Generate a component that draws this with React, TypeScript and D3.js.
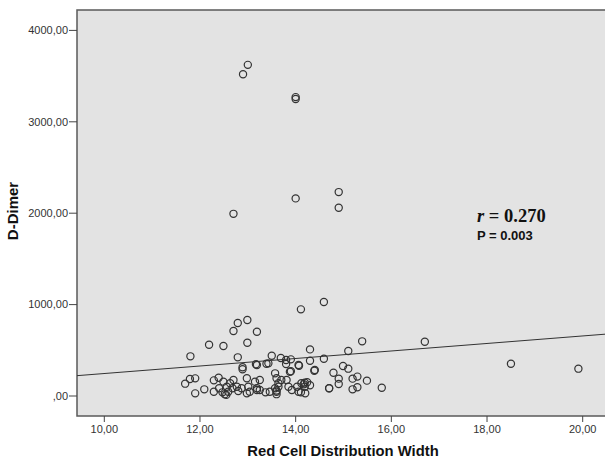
import React from 'react'
import * as d3 from 'd3'

// Red Cell Distribution Width (x) vs D-Dimer (y)
const rdw = [
  13.0, 12.9, 14.0, 14.0, 14.0, 12.7, 14.9, 14.9, 14.59, 14.11,
  15.39, 16.7, 18.5, 19.91, 15.1, 14.3, 14.59, 14.3, 14.99, 15.1,
  14.39, 14.4, 14.79, 14.9, 14.9, 15.19, 15.29, 15.49, 15.29, 15.19,
  14.7, 15.8, 14.19, 14.3, 14.11, 11.8, 12.19, 12.49, 12.7, 12.79,
  12.99, 13.19, 12.99, 12.79, 12.89, 12.89, 13.19, 13.39, 13.5, 13.69,
  13.8, 13.8, 13.9, 13.9, 14.06, 11.69, 11.79, 11.9, 11.9, 12.09,
  12.29, 12.39, 12.29, 12.49, 12.4, 12.47, 12.56, 12.59, 12.63, 12.7,
  12.68, 12.77, 12.8, 12.87, 12.98, 13.01, 13.04, 13.15, 13.19, 12.98,
  13.43, 13.88, 14.07, 13.25, 13.57, 13.6, 13.64, 13.7, 13.81, 13.19,
  13.25, 13.46, 13.57, 13.6, 13.64, 13.85, 13.92, 14.03, 14.06, 14.12,
  14.17, 14.24, 14.19, 14.7, 13.6, 13.6, 12.52, 12.55, 13.37, 14.2,
  13.17
]
const dDimer = [
  3623, 3521, 3270, 3250, 2162, 1993, 2231, 2059, 1028, 948,
  598, 594, 353, 299, 492, 510, 408, 386, 328, 299,
  277, 284, 255, 190, 131, 190, 212, 168, 95, 73,
  84, 91, 146, 117, 40, 434, 561, 547, 711, 798,
  831, 703, 583, 423, 314, 292, 339, 353, 441, 415,
  350, 394, 401, 270, 339, 135, 186, 193, 29, 73,
  171, 200, 47, 157, 84, 40, 102, 47, 139, 175,
  84, 102, 55, 84, 194, 102, 47, 157, 66, 29,
  357, 266, 331, 175, 248, 194, 139, 175, 175, 84,
  66, 47, 84, 47, 102, 102, 66, 102, 47, 139,
  128, 150, 102, 84, 20, 60, 20, 12, 40, 30,
  347
]

const xTicks = [10, 12, 14, 16, 18, 20]
const yTicks = [0, 1000, 2000, 3000, 4000]

// fitted line
const fitIntercept = -165
const fitSlope = 41.1
const rText = '0.270'
const pText = '0.003'

export default function App() {
  const W = 605
  const H = 461
  const plot = { left: 77, top: 10, right: 606, bottom: 416 }

  const x = d3.scaleLinear().domain([10, 20]).range([104.3, 582.7])
  const y = d3.scaleLinear().domain([0, 4000]).range([396, 30.4])

  const fmt = (v: number) => v.toFixed(2).replace('.', ',')
  const xMin = x.invert(plot.left)
  const xMax = x.invert(plot.right)

  const line = d3.line<number>()
    .x(d => x(d))
    .y(d => y(fitIntercept + fitSlope * d))

  const tickColor = '#444'

  return (
    <svg width={W} height={H} style={{ position: 'absolute', left: 0, top: 0 }}
      fontFamily="'Liberation Sans', Arial, sans-serif">
      <rect x={plot.left} y={plot.top} width={plot.right - plot.left}
        height={plot.bottom - plot.top} fill="#e3e3e3" stroke="#5a5a5a" strokeWidth={1.5} />

      {/* points */}
      {rdw.map((r, i) => (
        <circle key={i} cx={x(r)} cy={y(dDimer[i])} r={3.6}
          fill="none" stroke="#333" strokeWidth={1.2} />
      ))}

      {/* fit line */}
      <path d={line([xMin, xMax]) || ''} fill="none" stroke="#333" strokeWidth={1} />

      {/* y axis */}
      {yTicks.map(t => (
        <g key={t}>
          <line x1={plot.left - 8} x2={plot.left} y1={y(t)} y2={y(t)} stroke={tickColor} strokeWidth={1} />
          <text x={plot.left - 9} y={y(t)} dy="0.35em" textAnchor="end" fontSize={11} fill="#333">
            {t === 0 ? ',00' : fmt(t)}
          </text>
        </g>
      ))}

      {/* x axis */}
      {xTicks.map(t => (
        <g key={t}>
          <line x1={x(t)} x2={x(t)} y1={plot.bottom} y2={plot.bottom + 6} stroke={tickColor} strokeWidth={1} />
          <text x={x(t)} y={433} textAnchor="middle" fontSize={11} fill="#333">{fmt(t)}</text>
        </g>
      ))}

      {/* axis titles */}
      <text x={343} y={456} textAnchor="middle" fontSize={14.8} fontWeight="bold" fill="#111">
        Red Cell Distribution Width
      </text>
      <text transform="translate(18,211) rotate(-90)" textAnchor="middle" fontSize={15}
        fontWeight="bold" fill="#111">D-Dimer</text>

      {/* annotation */}
      <text x={477} y={221.5} fontSize={18.5} fontWeight="bold" fill="#111"
        fontFamily="'Liberation Serif', 'Times New Roman', serif">
        <tspan fontStyle="italic">r</tspan> = {rText}
      </text>
      <text x={477} y={240} fontSize={13} fontWeight="bold" fill="#111">P = {pText}</text>
    </svg>
  )
}
